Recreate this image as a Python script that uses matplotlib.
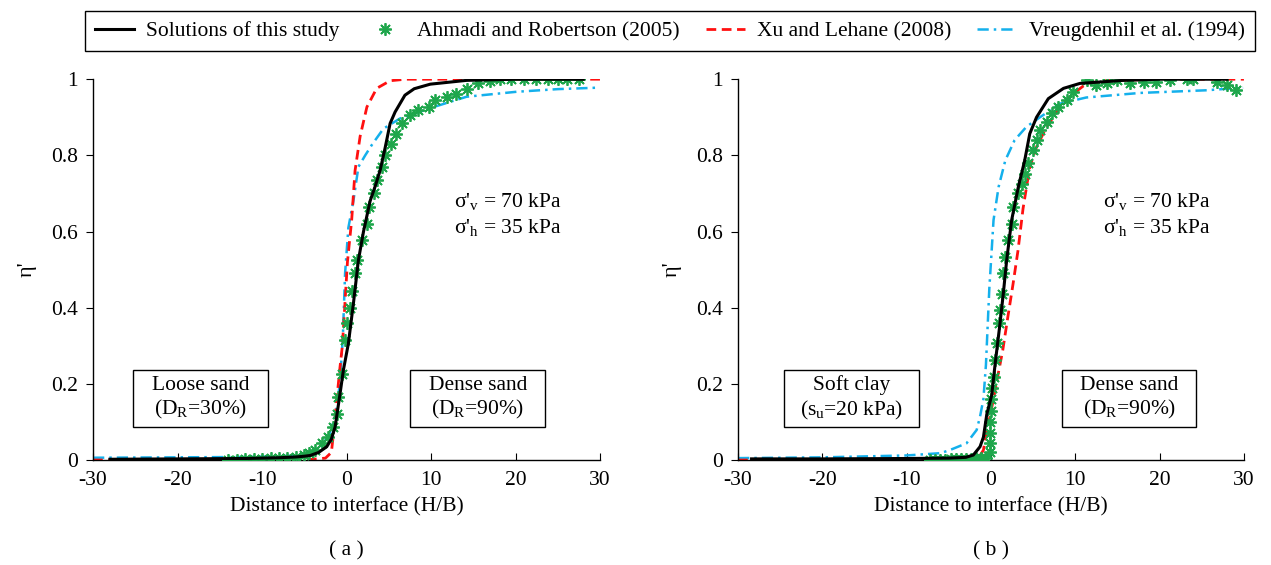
import numpy as np
import matplotlib
matplotlib.use('Agg')
import matplotlib.pyplot as plt
from matplotlib.patches import Rectangle
from matplotlib.ticker import FuncFormatter

plt.rcParams['font.family'] = ['Liberation Serif', 'DejaVu Serif']
plt.rcParams['mathtext.default'] = 'regular'
plt.rcParams['axes.unicode_minus'] = False
plt.rcParams['font.size'] = 15.5

# (a) loose sand / dense sand
a_model_x = [-28, -20, -12, -8, -6, -5, -4.3, -3.3, -2.35, -1.8, -1.36, -0.77, -0.38, 0.21, 0.8, 1.4, 2.0,
             2.78, 3.4, 3.96, 4.56, 5.15, 5.74, 6.9, 8.0, 9.9, 14.2, 20, 28]
a_model_y = [0.002, 0.003, 0.004, 0.006, 0.008, 0.01, 0.012, 0.02, 0.035, 0.055, 0.087, 0.175, 0.236, 0.306,
             0.41, 0.525, 0.60, 0.68, 0.72, 0.76, 0.82, 0.884, 0.914, 0.958, 0.975, 0.987, 0.997, 1.0, 1.0]

a_exp_x = [-14, -13, -12, -11, -10, -9, -8, -7, -6, -5, -4.4, -3.73, -2.94, -2.15, -1.56, -1.16, -0.97, -0.57,
           -0.18, 0.02, 0.41, 0.61, 1.0, 1.2, 1.8, 2.4, 2.6, 3.2, 3.6, 4.2, 4.6, 5.3, 5.9, 6.5, 7.5, 8.5, 9.7,
           10.5, 11.85, 13.0, 14.2, 15.6, 17.0, 18.2, 19.4, 21.0, 22.4, 23.8, 25.0, 26.1, 27.5]
a_exp_y = [0, 0, 0.002, 0.002, 0.003, 0.004, 0.005, 0.006, 0.008, 0.012, 0.018, 0.026, 0.044, 0.061, 0.087,
           0.122, 0.166, 0.227, 0.315, 0.359, 0.40, 0.445, 0.49, 0.525, 0.577, 0.621, 0.665, 0.70, 0.735, 0.77,
           0.80, 0.83, 0.857, 0.884, 0.906, 0.92, 0.927, 0.945, 0.954, 0.962, 0.973, 0.989, 0.996, 1.0, 1.0,
           1.0, 1.0, 1.0, 1.0, 1.0, 1.0]

a_xu_x = [-30, -20, -10, -4, -2.5, -1.8, -1.6, -1.2, -0.8, -0.5, 0.1, 0.6, 1.0, 1.6, 2.4, 3.56, 5.15, 7, 10, 20, 30]
a_xu_y = [0, 0, 0, 0.002, 0.005, 0.02, 0.06, 0.15, 0.24, 0.30, 0.52, 0.63, 0.76, 0.85, 0.927, 0.976, 0.996,
          1.0, 1.0, 1.0, 1.0]

a_vr_x = [-30, -20, -12, -8, -6, -5, -4.3, -3, -2, -1.3, -0.8, -0.45, -0.18, 0.21, 0.8, 1.4, 2.2, 2.97, 4.35,
          6.33, 10.3, 14.2, 20.1, 25, 30]
a_vr_y = [0.006, 0.007, 0.008, 0.01, 0.012, 0.015, 0.018, 0.035, 0.07, 0.12, 0.2, 0.32, 0.49, 0.61, 0.68, 0.77,
          0.80, 0.827, 0.87, 0.897, 0.927, 0.954, 0.967, 0.974, 0.978]

# (b) soft clay / dense sand
b_model_x = [-28.4, -20, -10, -5, -3, -2.1, -1.3, -0.9, -0.5, 0.08, 0.5, 1.07, 1.46, 1.86, 2.45, 3.24, 4.0,
             4.6, 5.4, 6.8, 8.6, 10.55, 15.7, 20, 28]
b_model_y = [0.003, 0.003, 0.004, 0.005, 0.007, 0.013, 0.035, 0.06, 0.12, 0.17, 0.254, 0.359, 0.437, 0.525,
             0.63, 0.717, 0.787, 0.857, 0.90, 0.949, 0.976, 0.989, 0.997, 1.0, 1.0]

b_exp_x = [-7.2, -6.6, -6.0, -5.4, -4.8, -4.2, -3.6, -3.0, -2.4, -1.8, -1.2, -0.6, -0.15, -0.12, -0.1, -0.08,
           -0.05, 0.0, 0.1, 0.3, 0.5, 0.7, 0.9, 1.07, 1.27, 1.46, 1.66, 2.05, 2.45, 2.65, 3.24, 3.63, 4.0, 4.4,
           5.0, 5.4, 5.8, 6.6, 7.2, 8.0, 9.0, 9.76, 11.35, 12.5, 13.7, 14.9, 16.5, 18.1, 19.6, 21.2, 23.2,
           24.0, 26.8, 27.95, 29.1]
b_exp_y = [0.0, 0.0, 0.001, 0.001, 0.002, 0.002, 0.002, 0.003, 0.003, 0.004, 0.005, 0.006, 0.02, 0.045, 0.07,
           0.1, 0.13, 0.16, 0.19, 0.219, 0.262, 0.306, 0.359, 0.394, 0.437, 0.49, 0.534, 0.577, 0.621, 0.665,
           0.70, 0.726, 0.752, 0.779, 0.813, 0.84, 0.866, 0.888, 0.91, 0.927, 0.945, 0.967, 0.997, 0.985,
           0.989, 0.997, 0.989, 0.993, 0.993, 0.997, 1.0, 1.0, 0.993, 0.984, 0.971]

b_xu_x = [-30, -10, -3, -1.5, -0.9, -0.5, 0.2, 0.8, 1.4, 2.0, 2.6, 3.2, 3.8, 4.6, 5.4, 6.6, 8.2, 9.76, 11.35,
          13.5, 20, 30]
b_xu_y = [0, 0, 0.001, 0.005, 0.026, 0.074, 0.15, 0.22, 0.289, 0.376, 0.46, 0.55, 0.66, 0.77, 0.822, 0.875,
          0.927, 0.962, 0.989, 0.996, 1.0, 1.0]

b_vr_x = [-30, -20, -10, -6, -4.9, -2.9, -1.7, -1.3, -0.9, -0.6, -0.4, -0.2, 0.08, 0.3, 0.9, 1.7, 2.8, 4.2,
          5.8, 8.2, 11.3, 17.7, 25.6, 29.9]
b_vr_y = [0.005, 0.007, 0.012, 0.018, 0.026, 0.044, 0.079, 0.114, 0.16, 0.25, 0.35, 0.45, 0.55, 0.63, 0.717,
          0.787, 0.84, 0.875, 0.90, 0.936, 0.952, 0.964, 0.971, 0.978]

labels = ['Solutions of this study', 'Ahmadi and Robertson (2005)', 'Xu and Lehane (2008)',
          'Vreugdenhil et al. (1994)']
GREEN = '#1ea64b'
RED = '#ff1010'
BLUE = '#14b0ec'

fig = plt.figure(figsize=(12.71, 5.65), dpi=100)
ax1 = fig.add_axes([0.0732, 0.1858, 0.399, 0.674])
ax2 = fig.add_axes([0.5807, 0.1858, 0.398, 0.674])

# soil boxes: (text, centre in axes fraction)
panels = [
    (ax1, a_model_x, a_model_y, a_exp_x, a_exp_y, a_xu_x, a_xu_y, a_vr_x, a_vr_y,
     [('Loose sand\n(D$_R$=30%)', 0.212), ('Dense sand\n(D$_R$=90%)', 0.759)], 12.7, '( a )'),
    (ax2, b_model_x, b_model_y, b_exp_x, b_exp_y, b_xu_x, b_xu_y, b_vr_x, b_vr_y,
     [('Soft clay\n(s$_u$=20 kPa)', 0.224), ('Dense sand\n(D$_R$=90%)', 0.773)], 13.3, '( b )'),
]

BOX_W, BOX_H, BOX_Y = 0.266, 0.15, 0.161

handles = []
for ax, mx, my, ex, ey, xx, xy, vx, vy, boxes, sig_x, tag in panels:
    h_vr, = ax.plot(vx, vy, color=BLUE, lw=1.8, dashes=(4.5, 2, 1, 2), zorder=2)
    h_xu, = ax.plot(xx, xy, color=RED, lw=2, dashes=(3.5, 2), zorder=2)
    h_exp, = ax.plot(ex, ey, ls='none', marker=(8, 2, 0), ms=9, mew=1.3, color=GREEN, zorder=3)
    h_mod, = ax.plot(mx, my, color='black', lw=2.2, zorder=4)
    handles = [h_mod, h_exp, h_xu, h_vr]

    ax.set_xlim(-30, 30)
    ax.set_ylim(0, 1)
    ax.set_xticks(np.arange(-30, 31, 10))
    ax.set_yticks(np.arange(0, 1.01, 0.2))
    ax.yaxis.set_major_formatter(FuncFormatter(lambda v, p: '%g' % round(v, 1)))
    ax.spines['top'].set_visible(False)
    ax.spines['right'].set_visible(False)
    for s in ['left', 'bottom']:
        ax.spines[s].set_linewidth(1.0)
    ax.tick_params(axis='x', direction='in', length=5, pad=8, labelsize=15.5)
    ax.tick_params(axis='y', direction='out', length=5, pad=6, labelsize=15.5)
    ax.set_xlabel('Distance to interface (H/B)', fontsize=15.5, labelpad=5)
    ax.set_ylabel("η'", fontsize=16)
    ax.yaxis.set_label_coords(-0.112, 0.5)

    ax.text(sig_x, 0.68, "σ'$_v$ = 70 kPa", fontsize=15.5, ha='left', va='center')
    ax.text(sig_x, 0.61, "σ'$_h$ = 35 kPa", fontsize=15.5, ha='left', va='center')
    for txt, bx in boxes:
        ax.add_patch(Rectangle((bx - BOX_W / 2, BOX_Y - BOX_H / 2), BOX_W, BOX_H, transform=ax.transAxes,
                               fc='white', ec='black', lw=1.0, zorder=5))
        ax.text(bx, BOX_Y, txt, transform=ax.transAxes, fontsize=15.5, ha='center', va='center',
                linespacing=1.2, zorder=6)
    ax.text(0.5, -0.212, tag, transform=ax.transAxes, fontsize=15.5, ha='center', va='top')

leg = fig.legend(handles, labels, loc='center', bbox_to_anchor=(0.527, 0.945), ncol=4, frameon=True,
                 fancybox=False, edgecolor='black', framealpha=1, handlelength=1.85, columnspacing=1.2,
                 handletextpad=0.55, borderpad=0.45, numpoints=1, fontsize=15.5)
leg.get_frame().set_linewidth(1.0)

fig.savefig('out.png', dpi=100)
